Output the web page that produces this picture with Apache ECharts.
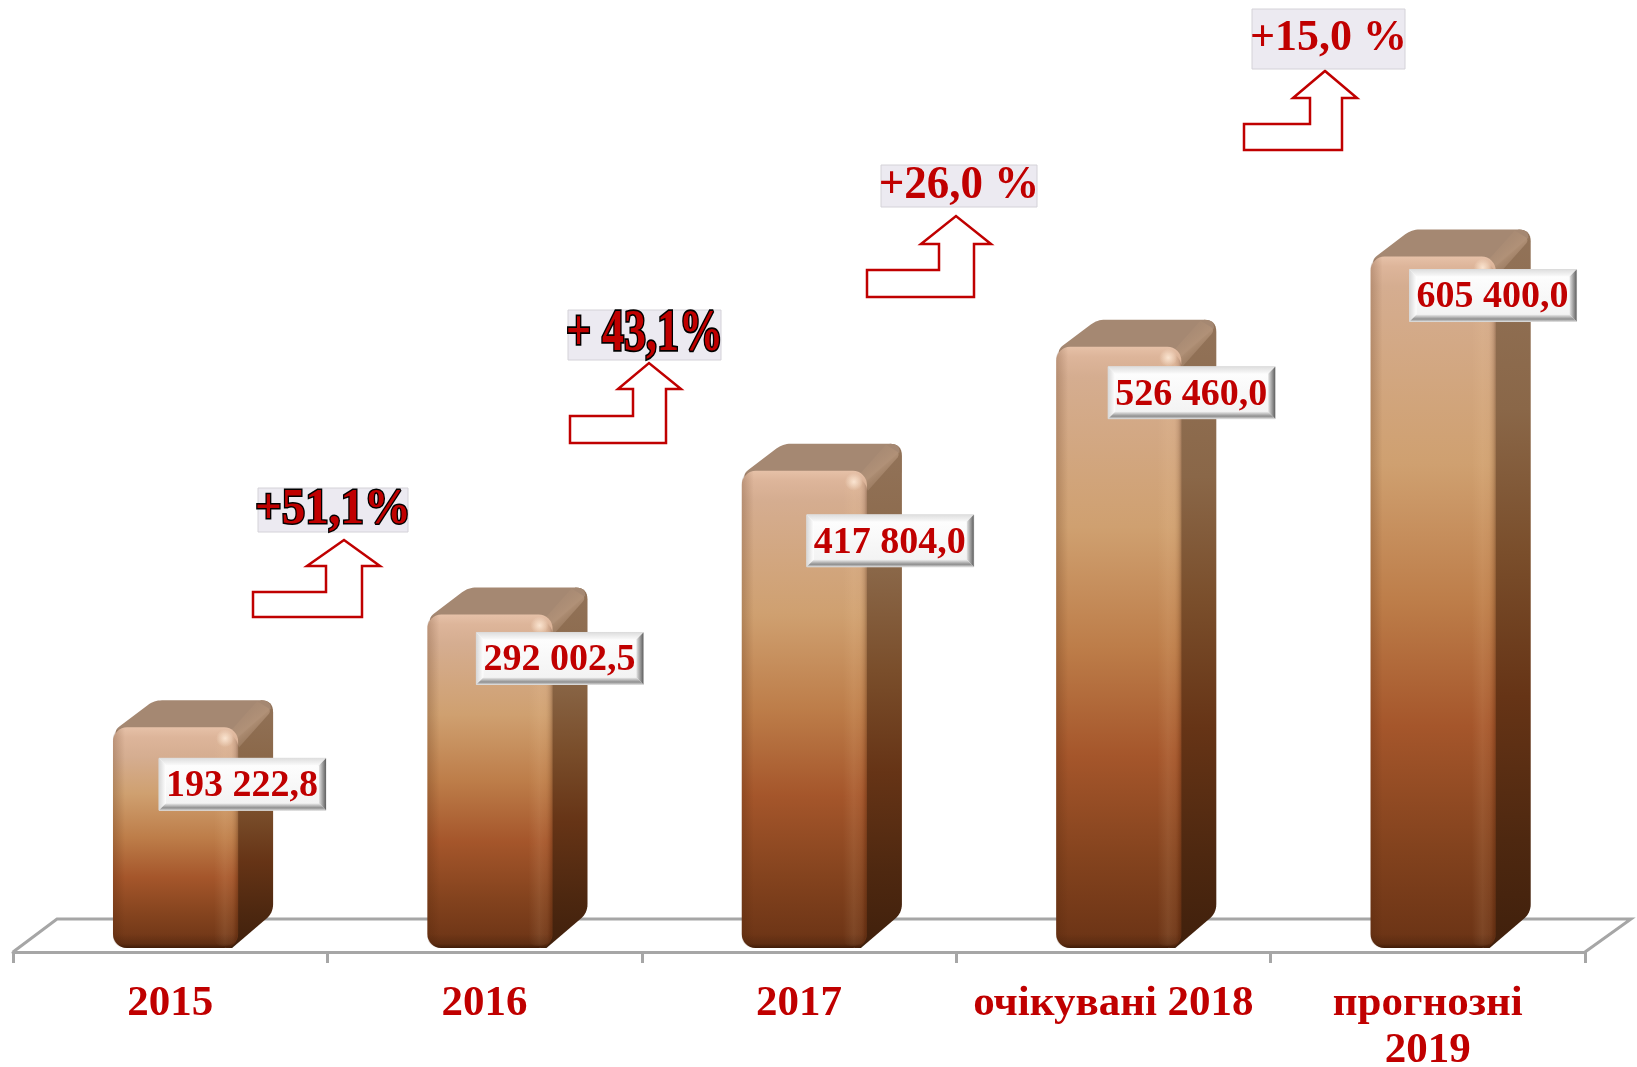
<!DOCTYPE html>
<html>
<head>
<meta charset="utf-8">
<style>html,body{margin:0;padding:0;background:#fff}#c{width:1637px;height:1067px}</style>
<script src="https://cdn.jsdelivr.net/npm/echarts@6/dist/echarts.min.js"></script>
</head>
<body>
<div id="c"></div>
<script>
const categories = ['2015', '2016', '2017', 'очікувані 2018', 'прогнозні\n2019'];
const values = [193222.8, 292002.5, 417804.0, 526460.0, 605400.0];
const growthLabels = ['+51,1%', '+ 43,1%', '+26,0 %', '+15,0 %'];

// Annotation layout (pixels on the page)
const labelOffsets = [[46, 31], [49, 18], [65, 44], [52, 20], [39, 13]];
const growthBoxes = [[258, 488, 150, 44], [568, 310, 153, 50], [881, 165, 156, 42], [1252, 9, 153, 60]];
const growthScaleY = [1.1, 1.35, 1.05, 1.0];
const growthFont = [47, 44, 45, 44];
const growthOutlined = [true, true, false, false];
const arrowShapes = [
  // left, bottom, shelf, stemL, headY, headL, tipX, tipY, headR, stemR
  [253, 617, 592, 326, 566, 307, 344, 540, 380, 362],
  [570, 443, 416, 633, 389, 618, 649, 363, 681, 666],
  [867, 297, 270, 939, 244, 921, 956, 216, 991, 974],
  [1244, 150, 124, 1310, 98, 1293, 1325, 71, 1357, 1342]
];
const floorBack = [[13, 952], [57, 919], [1631, 919], [1585, 952]];

const RED = '#C00000';
const SERIF = '"Liberation Serif","Times New Roman",serif';
const DEPTH_X = 35, DEPTH_Y = 27;
const LG = (x0, y0, x1, y1, stops) => new echarts.graphic.LinearGradient(x0, y0, x1, y1,
  stops.map(s => ({offset: s[0], color: s[1]})));

function formatValue(v) {
  const parts = v.toFixed(1).split('.');
  return parts[0].replace(/\B(?=(\d{3})+$)/g, ' ') + ',' + parts[1];
}

function rounded(pts) {
  const out = [];
  const n = pts.length;
  for (let i = 0; i < n; i++) {
    const p = pts[i], a = pts[(i + n - 1) % n], b = pts[(i + 1) % n], r = p[2] || 0;
    if (!r) { out.push([p[0], p[1]]); continue; }
    const la = Math.hypot(a[0] - p[0], a[1] - p[1]), lb = Math.hypot(b[0] - p[0], b[1] - p[1]);
    const s = [p[0] + (a[0] - p[0]) * r / la, p[1] + (a[1] - p[1]) * r / la];
    const e = [p[0] + (b[0] - p[0]) * r / lb, p[1] + (b[1] - p[1]) * r / lb];
    for (let t = 0; t <= 1.001; t += 0.125) {
      const u = 1 - t;
      out.push([u * u * s[0] + 2 * u * t * p[0] + t * t * e[0], u * u * s[1] + 2 * u * t * p[1] + t * t * e[1]]);
    }
  }
  return out;
}

function renderBar(params, api) {
  const i = api.value(0), v = api.value(1);
  const top = api.coord([i, v]), base = api.coord([i, 0]);
  const band = api.size([1, 0])[0];
  const w = band * 0.398;
  const x = top[0] - band * 0.182;
  const yt = top[1], yb = base[1], h = yb - yt;
  const dx = DEPTH_X, dy = DEPTH_Y;
  const f = px => Math.min(0.99, px / h);
  const kids = [];

  // side face
  kids.push({type: 'polygon', z2: 1, shape: {points: rounded([
    [x + w - 12, yt + 2, 0], [x + w + dx - 12, yt - dy, 0], [x + w + dx, yt - dy, 12],
    [x + w + dx, yb - dy - 8, 9], [x + w - 6, yb, 0], [x + w - 12, yb, 0]
  ])}, style: {fill: LG(0, 0, 0, 1, [
    [0, '#927359'], [0.25, '#8A6748'], [0.45, '#7A4E2B'], [0.65, '#663416'], [0.85, '#4E2810'], [1, '#40200C']
  ])}});
  // top face
  kids.push({type: 'polygon', z2: 2, shape: {points: rounded([
    [x, yt + 4, 8], [x + dx + 6, yt - dy, 8], [x + w + dx, yt - dy, 12],
    [x + w + dx - 2, yt - dy + 8, 0], [x + w, yt + 10, 0], [x + 4, yt + 10, 0]
  ])}, style: {fill: '#A58872'}});
  // soft band along the upper right edge
  kids.push({type: 'polygon', z2: 3, shape: {points: rounded([
    [x + w - 6, yt + 2, 0], [x + w + dx - 16, yt - dy + 1, 0], [x + w + dx - 1, yt - dy + 10, 6], [x + w + 1, yt + 20, 0]
  ])}, style: {fill: LG(0, 0, 1, 1, [
    [0, 'rgba(165,136,114,0)'], [0.5, 'rgba(178,146,120,0.9)'], [1, 'rgba(146,115,89,0)']
  ])}});
  // front face
  kids.push({type: 'rect', z2: 4, shape: {x: x, y: yt, width: w, height: h, r: 14}, style: {fill: LG(0, 0, 0, 1, [
    [0, '#E6C1A8'], [f(10), '#DDB59A'], [f(30), '#D5AD90'], [0.3, '#CFA070'], [0.5, '#BD7D49'],
    [0.68, '#A5562B'], [0.85, '#84431E'], [1, '#6A3315']
  ])}});
  // right bevel
  kids.push({type: 'rect', z2: 5, shape: {x: x + w - 24, y: yt + 6, width: 24, height: h - 8, r: [8, 14, 14, 8]}, style: {fill: LG(0, 0, 1, 0, [
    [0, 'rgba(255,215,170,0)'], [0.45, 'rgba(255,215,170,0.10)'], [0.7, 'rgba(255,215,170,0.06)'], [0.9, 'rgba(60,25,5,0.12)'], [1, 'rgba(60,25,5,0.3)']
  ])}});
  // left bevel
  kids.push({type: 'rect', z2: 5, shape: {x: x, y: yt, width: 12, height: h, r: [14, 0, 0, 14]}, style: {fill: LG(0, 0, 1, 0, [
    [0, 'rgba(70,30,5,0.22)'], [1, 'rgba(70,30,5,0)']
  ])}});
  // bottom bevel
  kids.push({type: 'rect', z2: 5, shape: {x: x, y: yb - 14, width: w, height: 14, r: [0, 0, 14, 14]}, style: {fill: LG(0, 0, 0, 1, [
    [0, 'rgba(40,15,0,0)'], [0.7, 'rgba(40,15,0,0.2)'], [1, 'rgba(40,15,0,0.65)']
  ])}});
  // corner glint
  kids.push({type: 'circle', z2: 6, shape: {cx: x + w - 13, cy: yt + 11, r: 9}, style: {
    fill: new echarts.graphic.RadialGradient(0.5, 0.5, 0.5, [
      {offset: 0, color: 'rgba(255,236,218,0.85)'}, {offset: 1, color: 'rgba(255,236,218,0)'}
    ])}});

  // beveled value label
  const off = labelOffsets[i];
  const bx = x + off[0], by = yt + off[1], bw = 167, bh = 52, b = 7;
  kids.push({type: 'rect', z2: 10, shape: {x: bx, y: by, width: bw, height: bh}, style: {fill: LG(0, 0, 0, 1, [[0, '#ffffff'], [1, '#F1F1F1']]), stroke: '#DADADA', lineWidth: 1}});
  kids.push({type: 'polygon', z2: 11, shape: {points: [[bx, by], [bx + bw, by], [bx + bw - b, by + b], [bx + b, by + b]]}, style: {fill: LG(0, 0, 0, 1, [[0, '#DEDEDE'], [1, '#FAFAFA']])}});
  kids.push({type: 'polygon', z2: 11, shape: {points: [[bx, by], [bx + b, by + b], [bx + b, by + bh - b], [bx, by + bh]]}, style: {fill: LG(0, 0, 1, 0, [[0, '#D8D8D8'], [1, '#FFFFFF']])}});
  kids.push({type: 'polygon', z2: 11, shape: {points: [[bx + bw, by], [bx + bw, by + bh], [bx + bw - b, by + bh - b], [bx + bw - b, by + b]]}, style: {fill: LG(0, 0, 1, 0, [[0, '#E4E4E4'], [1, '#5F5F5F']])}});
  kids.push({type: 'polygon', z2: 11, shape: {points: [[bx, by + bh], [bx + b, by + bh - b], [bx + bw - b, by + bh - b], [bx + bw, by + bh]]}, style: {fill: LG(0, 0, 0, 1, [[0, '#EDEDED'], [0.65, '#8F8F8F'], [1, '#D6D6D6']])}});
  kids.push({type: 'text', z2: 12, style: {
    text: formatValue(v), x: bx + bw / 2 - 0.5, y: by + bh / 2 + 2, align: 'center', verticalAlign: 'middle',
    fill: RED, font: 'bold 38px ' + SERIF
  }});
  return {type: 'group', children: kids};
}

const graphics = [];
graphics.push({type: 'polyline', z: -1, silent: true, shape: {points: floorBack},
  style: {fill: null, stroke: '#A6A6A6', lineWidth: 3}});
arrowShapes.forEach(a => {
  const [l, bt, sh, sl, hy, hl, tx, ty, hr, sr] = a;
  graphics.push({type: 'polygon', z: 5, silent: true,
    shape: {points: [[l, bt], [l, sh], [sl, sh], [sl, hy], [hl, hy], [tx, ty], [hr, hy], [sr, hy], [sr, bt]]},
    style: {fill: '#fff', stroke: '#C00000', lineWidth: 2.5}});
});
growthBoxes.forEach((b, i) => {
  graphics.push({type: 'rect', z: 6, silent: true, shape: {x: b[0], y: b[1], width: b[2], height: b[3]},
    style: {fill: '#ECEAF1', stroke: '#D4D2D8', lineWidth: 1}});
  graphics.push({type: 'text', z: 7, silent: true, x: b[0] + b[2] / 2, y: b[1] + b[3] / 2, scaleY: growthScaleY[i],
    style: Object.assign({text: growthLabels[i], x: 0, y: 0, align: 'center', verticalAlign: 'middle',
      fill: RED, font: 'bold ' + growthFont[i] + 'px ' + SERIF},
      growthOutlined[i] ? {stroke: '#000', lineWidth: 2.6} : {})});
});

const chart = echarts.init(document.getElementById('c'), null, {renderer: 'canvas'});
chart.setOption({
  animation: false,
  backgroundColor: '#fff',
  grid: {left: 13, top: 0, width: 1572, height: 948, containLabel: false, outerBoundsMode: 'none'},
  xAxis: {
    type: 'category', data: categories, offset: 4,
    axisLine: {show: true, onZero: false, lineStyle: {color: '#A6A6A6', width: 3}},
    axisTick: {show: true, length: 11, alignWithLabel: false, lineStyle: {color: '#A6A6A6', width: 3}},
    axisLabel: {interval: 0, margin: 28, color: RED, fontFamily: SERIF, fontWeight: 'bold', fontSize: 43, lineHeight: 47, hideOverlap: false}
  },
  yAxis: {type: 'value', min: 0, max: 830000, show: false, splitLine: {show: false}},
  series: [{
    type: 'custom', silent: true, clip: false, z: 3,
    renderItem: renderBar,
    encode: {x: 0, y: 1},
    data: values.map((v, i) => [i, v])
  }],
  graphic: {elements: graphics}
});
</script>
</body>
</html>
